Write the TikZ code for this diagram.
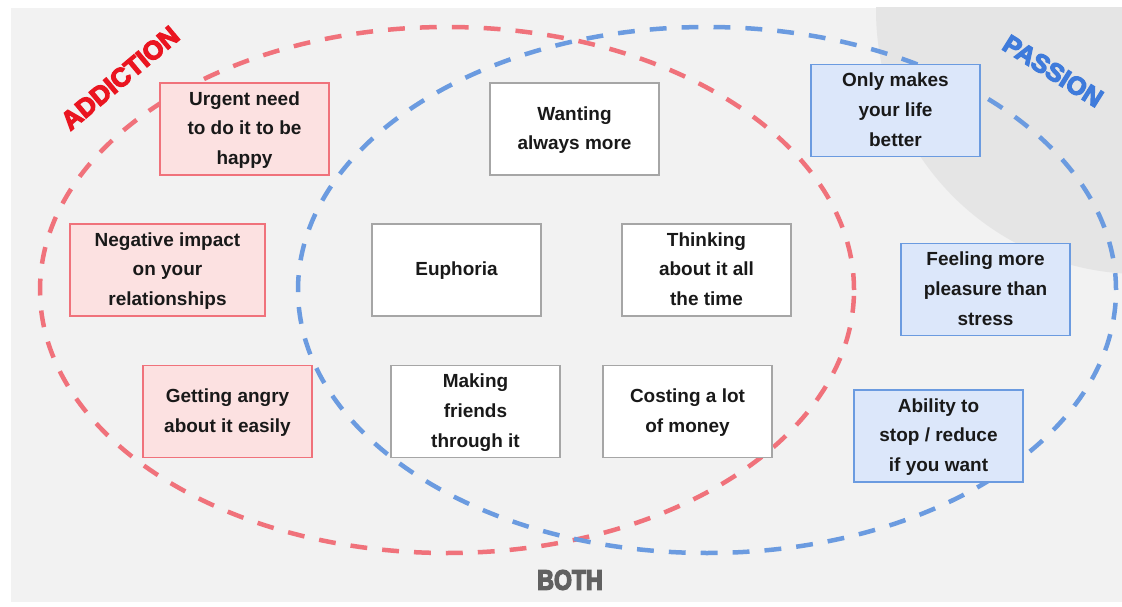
\documentclass[tikz,border=0pt]{standalone}
\usepackage{fontspec}
\setmainfont{Liberation Sans}
\newfontfamily\bothfont{Liberation Sans}[FakeStretch=0.82]
% heavier letters: fill and stroke the glyphs
\newcommand{\heavytext}[1]{\special{pdf:literal direct 2 Tr 0.9 w}#1\special{pdf:literal direct 0 Tr}}
\definecolor{addline}{HTML}{F0727B}
\definecolor{addfill}{HTML}{FCE1E1}
\definecolor{addtext}{HTML}{EA1520}
\definecolor{pasline}{HTML}{6B9BE0}
\definecolor{pasfill}{HTML}{DCE7FA}
\definecolor{pastext}{HTML}{3F7BDB}
\definecolor{bgcol}{HTML}{F2F2F2}
\definecolor{cornercol}{HTML}{E5E5E5}
\newcommand{\boxfont}{\fontsize{13.5}{21.3}\selectfont\bfseries}
\tikzset{
	ring/.style={line width=3.2pt, dash pattern=on 12pt off 10.7pt},
	bothbox/.style={draw=gray!70, fill=white, line width=0.8pt, minimum width=4.225cm, minimum height=2.3cm, inner ysep=0pt, align=center, font=\boxfont, text=black!90},
	addbox/.style={bothbox, draw=addline, fill=addfill},
	pasbox/.style={bothbox, draw=pasline, fill=pasfill},
}
\begin{document}
\begin{tikzpicture}[x=0.025cm, y=0.025cm]
		\useasboundingbox (0,0) rectangle (1122,606);
		\fill[white] (0,0) rectangle (1122,606);
		\fill[bgcol] (11,4) rectangle (1122,598);
		\begin{scope}
			\clip (11,4) rectangle (1122,598);
			\fill[cornercol] (1140,596) circle (264);
		\end{scope}
		% the two sets
		\draw[ring, addline] (447,316) ellipse (407 and 263);
		\draw[ring, pasline] (707,316) ellipse (409 and 263);
		% addiction only
		\node[addbox] (urgent) at (244.5,477){\strut Urgent need\\to do it to be\\happy\strut};
		\node[addbox, minimum width=4.875cm] (negative) at (167.5,336){\strut Negative impact\\on your\\relationships\strut};
		\node[addbox] (angry) at (227.5,194.5){\strut Getting angry\\about it easily\strut};
		% both
		\node[bothbox] (wanting) at (574.5,477){\strut Wanting\\always more\strut};
		\node[bothbox] (euphoria) at (456.5,336){\strut Euphoria};
		\node[bothbox] (thinking) at (706.5,336){\strut Thinking\\about it all\\the time\strut};
		\node[bothbox] (friends) at (475.5,194.5){\strut Making\\friends\\through it\strut};
		\node[bothbox] (money) at (687.5,194.5){\strut Costing a lot\\of money\strut};
		% passion only
		\node[pasbox] (better) at (895.5,495.5){\strut Only makes\\your life\\better\strut};
		\node[pasbox] (pleasure) at (985.5,316.5){\strut Feeling more\\pleasure than\\stress\strut};
		\node[pasbox] (ability) at (938.5,170){\strut Ability to\\stop / reduce\\if you want\strut};
		% titles
		\node[rotate=40, text=addtext, font=\fontsize{18.5}{18.5}\selectfont\bfseries] (addtitle) at (120,528){\heavytext{ADDICTION}};
		\node[rotate=-32, text=pastext, font=\fontsize{18}{18}\selectfont\bfseries] (pastitle) at (1053,535){\heavytext{PASSION}};
		\node[text=black!62, font=\fontsize{20}{20}\selectfont\bothfont\bfseries] (bothtitle) at (570,26){\heavytext{BOTH}};
	\end{tikzpicture}
\end{document}
